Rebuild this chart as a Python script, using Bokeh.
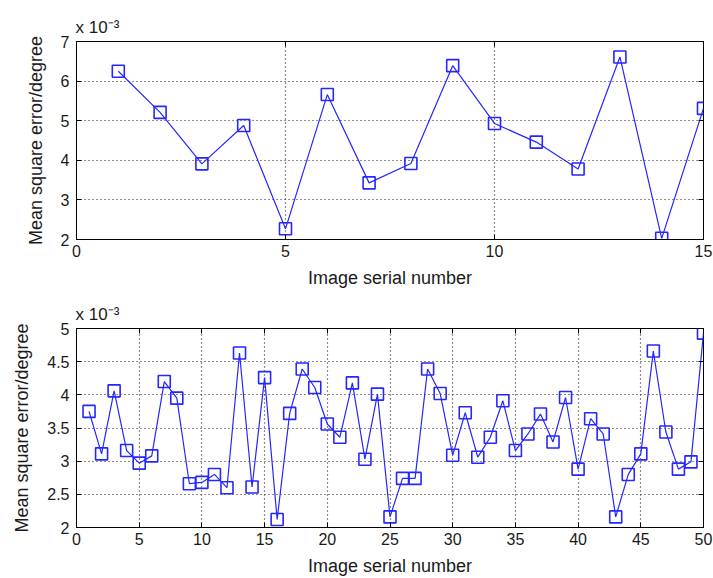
from bokeh.plotting import figure
from bokeh.layouts import column
from bokeh.models import Range1d, LinearAxis, FixedTicker, Title
from bokeh.embed import file_html
from bokeh.resources import INLINE

# ---- data ----
top_x = list(range(1, 16))
top_y = [6.25, 5.21, 3.91, 4.88, 2.27, 5.66, 3.43, 3.92, 6.39, 4.93, 4.46, 3.78, 6.61, 2.03, 5.31]

bot_x = list(range(1, 51))
bot_y = [3.75, 3.11, 4.06, 3.16, 2.97, 3.08, 4.20, 3.95, 2.66, 2.68,
         2.80, 2.60, 4.63, 2.61, 4.26, 2.12, 3.72, 4.39, 4.11, 3.56,
         3.36, 4.18, 3.03, 4.01, 2.16, 2.74, 2.74, 4.39, 4.02, 3.09,
         3.73, 3.06, 3.36, 3.91, 3.16, 3.41, 3.71, 3.29, 3.96, 2.88,
         3.64, 3.41, 2.16, 2.80, 3.11, 4.66, 3.44, 2.88, 2.99, 4.93]

top_xticks = [0, 5, 10, 15]
top_yticks = [2, 3, 4, 5, 6, 7]
bot_xticks = [0, 5, 10, 15, 20, 25, 30, 35, 40, 45, 50]
bot_yticks = [2, 2.5, 3, 3.5, 4, 4.5, 5]

x_label = "Image serial number"
y_label = "Mean square error/degree"
scale_text = "x  10\u207b\u00b3"

FONT = "Liberation Sans"
BLUE = "#2626ff"
INK = "#1a1a1a"


def make(xs, ys, xticks, yticks, xr, yr, h, top, bottom):
    p = figure(width=713, height=h, output_backend="svg", toolbar_location=None,
               x_range=Range1d(*xr), y_range=Range1d(*yr),
               min_border_left=76, min_border_right=10,
               min_border_top=top, min_border_bottom=bottom)
    p.background_fill_color = "white"
    p.border_fill_color = "white"
    p.outline_line_color = "black"
    p.outline_line_width = 1

    for ax, ticks in ((p.xaxis[0], xticks), (p.yaxis[0], yticks)):
        ax.ticker = FixedTicker(ticks=ticks)
        ax.major_tick_in = 5
        ax.major_tick_out = 0
        ax.minor_tick_line_color = None
        ax.axis_line_color = "black"
        ax.major_tick_line_color = "black"
        ax.major_label_text_font = FONT
        ax.major_label_text_font_size = "16px"
        ax.major_label_text_color = INK
        ax.axis_label_text_font = FONT
        ax.axis_label_text_font_size = "18px"
        ax.axis_label_text_font_style = "normal"
        ax.axis_label_text_color = INK
    p.xaxis[0].axis_label = x_label
    p.yaxis[0].axis_label = y_label
    p.xaxis[0].major_label_standoff = 5
    p.xaxis[0].axis_label_standoff = 8
    p.yaxis[0].major_label_standoff = 7
    p.yaxis[0].axis_label_standoff = 12

    # mirrored inward ticks on top and right (no labels)
    ta = LinearAxis(ticker=FixedTicker(ticks=xticks), major_tick_in=5, major_tick_out=0,
                    minor_tick_line_color=None, axis_line_color=None,
                    major_label_text_color=None, major_label_text_font_size="1px",
                    major_label_standoff=0)
    ra = LinearAxis(ticker=FixedTicker(ticks=yticks), major_tick_in=5, major_tick_out=0,
                    minor_tick_line_color=None, axis_line_color=None,
                    major_label_text_color=None, major_label_text_font_size="1px",
                    major_label_standoff=0)
    p.add_layout(ta, "above")
    p.add_layout(ra, "right")

    for g, ticks in ((p.xgrid[0], xticks), (p.ygrid[0], yticks)):
        g.ticker = FixedTicker(ticks=ticks)
        g.grid_line_color = INK
        g.grid_line_dash = "1 3"
        g.grid_line_width = 1.2

    p.line(xs, ys, line_color=BLUE, line_width=1.2)
    p.scatter(xs, ys, marker="square", size=12, fill_color=None,
              line_color=BLUE, line_width=1.6)

    p.add_layout(Title(text=scale_text, align="left", offset=-1, standoff=9,
                       text_font=FONT, text_font_size="17px", text_font_style="normal",
                       text_color=INK), "above")
    return p


p1 = make(top_x, top_y, top_xticks, top_yticks, (0, 15), (2, 7), 290, 41, 50)
p2 = make(bot_x, bot_y, bot_xticks, bot_yticks, (0, 50), (2, 5), 288, 38, 50)

layout = column(p1, p2, spacing=0)
open("out.html", "w").write(file_html(layout, INLINE))
